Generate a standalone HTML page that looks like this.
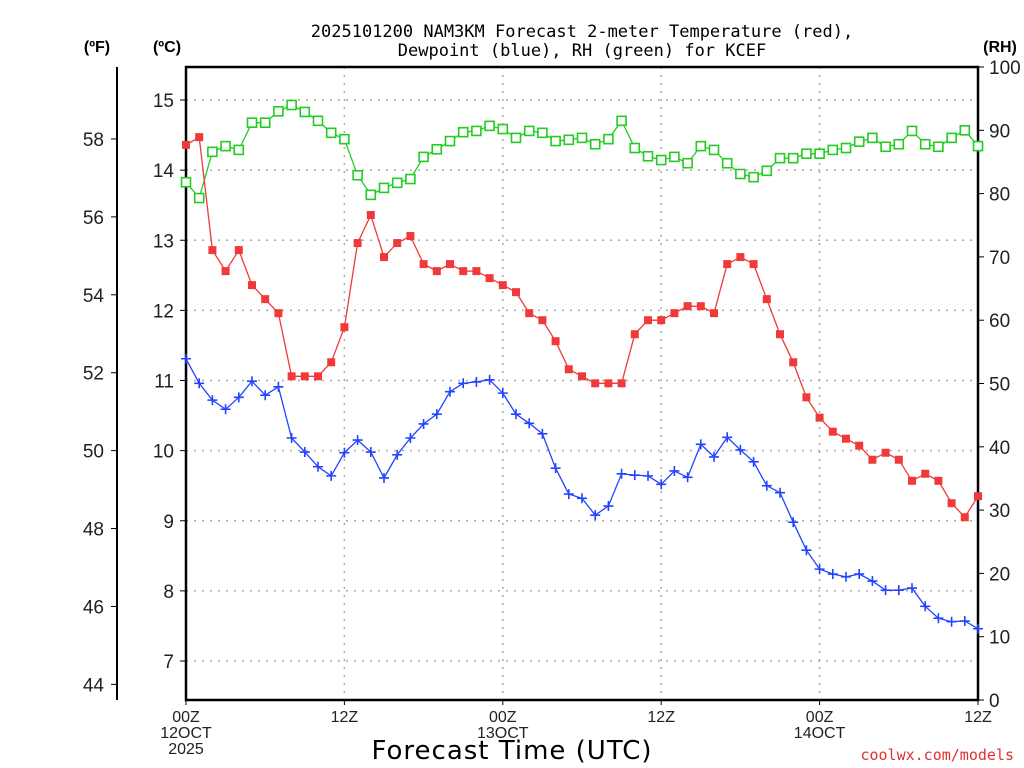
<!DOCTYPE html>
<html><head><meta charset="utf-8">
<style>
html,body{margin:0;padding:0;background:#fff;}
svg{display:block;font-family:"Liberation Sans","DejaVu Sans",sans-serif;}
</style></head>
<body>
<svg id="chart" width="1024" height="768" viewBox="0 0 1024 768" xmlns="http://www.w3.org/2000/svg">
<rect width="1024" height="768" fill="#fff"/>
<text x="582" y="37" font-size="17" text-anchor="middle" fill="#000" font-family="DejaVu Sans Mono, Liberation Mono, monospace">2025101200 NAM3KM Forecast 2-meter Temperature (red),</text>
<text x="582" y="56" font-size="17" text-anchor="middle" fill="#000" font-family="DejaVu Sans Mono, Liberation Mono, monospace">Dewpoint (blue), RH (green) for KCEF</text>
<text x="97" y="52" font-size="16" font-weight="bold" text-anchor="middle">(ºF)</text>
<text x="167" y="52" font-size="16" font-weight="bold" text-anchor="middle">(ºC)</text>
<text x="1000" y="52" font-size="16" font-weight="bold" text-anchor="middle">(RH)</text>
<text x="512" y="759" font-size="26" text-anchor="middle" font-family="DejaVu Sans, sans-serif" letter-spacing="1">Forecast Time (UTC)</text>
<text x="1014" y="760" font-size="15" text-anchor="end" fill="#e03030" font-family="DejaVu Sans Mono, monospace">coolwx.com/models</text>
<g id="grid"></g>
<g id="axes"></g>
<g id="series"></g>
</svg>
<script>
const hours = Array.from({length:61},(_,i)=>i);
const tempC = [14.36,14.47,12.86,12.56,12.86,12.36,12.16,11.96,11.06,11.06,11.06,11.26,11.76,12.96,13.36,12.76,12.96,13.06,12.66,12.56,12.66,12.56,12.56,12.46,12.36,12.26,11.96,11.86,11.56,11.16,11.06,10.96,10.96,10.96,11.66,11.86,11.86,11.96,12.06,12.06,11.96,12.66,12.76,12.66,12.16,11.66,11.26,10.76,10.47,10.27,10.17,10.07,9.87,9.97,9.87,9.57,9.67,9.57,9.25,9.05,9.35];
const dewC = [11.31,10.96,10.72,10.59,10.76,10.99,10.79,10.91,10.18,9.98,9.77,9.64,9.97,10.15,9.98,9.61,9.94,10.18,10.38,10.52,10.84,10.96,10.98,11.01,10.82,10.52,10.39,10.24,9.75,9.38,9.32,9.08,9.21,9.67,9.65,9.64,9.52,9.71,9.62,10.09,9.91,10.19,10.01,9.84,9.50,9.40,8.98,8.58,8.31,8.24,8.20,8.24,8.14,8.01,8.01,8.04,7.78,7.61,7.56,7.57,7.46];
const rh = [81.8,79.3,86.6,87.5,86.9,91.2,91.2,93.0,94.0,92.9,91.5,89.6,88.6,82.9,79.8,80.9,81.7,82.3,85.8,87.0,88.3,89.7,89.9,90.7,90.2,88.8,89.9,89.6,88.3,88.5,88.8,87.8,88.6,91.5,87.2,85.9,85.3,85.8,84.8,87.5,86.9,84.8,83.1,82.6,83.6,85.6,85.6,86.3,86.3,86.9,87.2,88.2,88.8,87.4,87.8,89.9,87.8,87.4,88.8,90.0,87.5];
const cTicks = [7,8,9,10,11,12,13,14,15];
const fTicks = [44,46,48,50,52,54,56,58];
const rhTicks = [0,10,20,30,40,50,60,70,80,90,100];
const xTickHours = [0,12,24,36,48,60];
const xTickLabels = [["00Z","12OCT","2025"],["12Z"],["00Z","13OCT"],["12Z"],["00Z","14OCT"],["12Z"]];

const L=186,R=978,T=67,B=700;
const xS=h=>L+(R-L)*h/60;
const yC=c=>100+(15-c)*70.125;
const yF=f=>yC((f-32)*5/9);
const yRH=v=>B-(B-T)*v/100;
const NS="http://www.w3.org/2000/svg";
function mk(tag,attrs,parent){const e=document.createElementNS(NS,tag);for(const k in attrs)e.setAttribute(k,attrs[k]);parent.appendChild(e);return e;}
const grid=document.getElementById('grid'),axes=document.getElementById('axes'),series=document.getElementById('series');

cTicks.forEach(c=>{
  const y=yC(c);
  const g=mk('line',{x1:L,x2:R,y1:y,y2:y,stroke:'#aaa','stroke-width':1.5,'stroke-dasharray':'2 6'},grid);
  
  
  const t=mk('line',{x1:L-6,x2:L,y1:y,y2:y,stroke:'#000','stroke-width':1},axes);
  
  
  const tx=mk('text',{x:L-12,y:y+7,'font-size':19,'text-anchor':'end',fill:'#222'},axes);
  tx.textContent=c;
  
  
});
xTickHours.forEach((h,i)=>{
  const x=xS(h);
  if(h>0&&h<60){
    const g=mk('line',{x1:x,x2:x,y1:T,y2:B,stroke:'#aaa','stroke-width':1.5,'stroke-dasharray':'2 6'},grid);
    
    
  }
  const t=mk('line',{x1:x,x2:x,y1:B,y2:B+5,stroke:'#000','stroke-width':1},axes);
  
  
  xTickLabels[i].forEach((s,j)=>{
    const tx=mk('text',{x:x,y:722+j*16,'font-size':16,'text-anchor':'middle',fill:'#222'},axes);
    tx.textContent=s;
    
    
  });
});
fTicks.forEach(f=>{
  const y=yF(f);
  const t=mk('line',{x1:111,x2:117,y1:y,y2:y,stroke:'#000','stroke-width':1},axes);
  
  
  const tx=mk('text',{x:104,y:y+7,'font-size':19,'text-anchor':'end',fill:'#222'},axes);
  tx.textContent=f;
  
  
});
rhTicks.forEach(v=>{
  const y=yRH(v);
  const t=mk('line',{x1:R,x2:R+6,y1:y,y2:y,stroke:'#000','stroke-width':1},axes);
  
  
  const tx=mk('text',{x:989,y:y+7,'font-size':19,'text-anchor':'start',fill:'#222'},axes);
  tx.textContent=v;
  
  
});
const fr=mk('rect',{x:L,y:T,width:R-L,height:B-T,fill:'none',stroke:'#000','stroke-width':2.5},axes);


const fa=mk('line',{x1:117,x2:117,y1:T,y2:B,stroke:'#000','stroke-width':2},axes);



function line(vals,yf,color,name){
  const pts=vals.map((v,i)=>xS(hours[i]).toFixed(1)+','+yf(v).toFixed(1)).join(' ');
  const p=mk('polyline',{points:pts,fill:'none',stroke:color,'stroke-width':1.3},series);
  
  
}
line(rh,yRH,'#22cc22','rh-line');
line(tempC,yC,'#f03a3a','temperature-line');
line(dewC,yC,'#2244ff','dewpoint-line');
rh.forEach((v,i)=>{
  const m=mk('rect',{x:xS(hours[i])-4.5,y:yRH(v)-4.5,width:9,height:9,fill:'#fff',stroke:'#22cc22','stroke-width':1.6},series);
  
  
});
tempC.forEach((v,i)=>{
  const m=mk('rect',{x:xS(hours[i])-4,y:yC(v)-4,width:8,height:8,fill:'#f03a3a'},series);
  
  
});
dewC.forEach((v,i)=>{
  const x=xS(hours[i]),y=yC(v);
  const m=mk('path',{d:`M${x-5},${y}H${x+5}M${x},${y-5}V${y+5}`,stroke:'#2244ff','stroke-width':1.6},series);
  
  
});
</script>
</body></html>
